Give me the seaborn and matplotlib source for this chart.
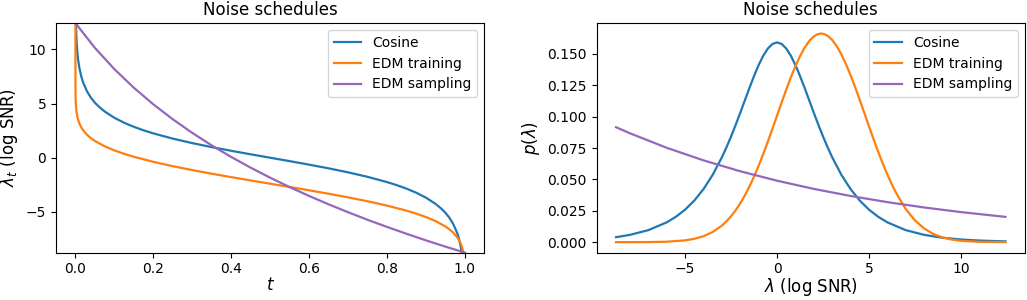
import pandas as pd
import seaborn as sns
import matplotlib.pyplot as plt

names = ["Cosine", "EDM training", "EDM sampling"]
colors = ["tab:blue", "tab:orange", "tab:purple"]

# left panel: lambda_t against t
t_cos = [0.00127, 0.0015, 0.002, 0.003, 0.004, 0.005, 0.007, 0.01, 0.015, 0.02, 0.03,
         0.04, 0.05, 0.06, 0.075, 0.1, 0.125, 0.15, 0.175, 0.2, 0.25, 0.3, 0.35, 0.4,
         0.45, 0.5, 0.55, 0.6, 0.65, 0.7, 0.75, 0.8, 0.825, 0.85, 0.875, 0.9, 0.925,
         0.94, 0.95, 0.96, 0.97, 0.98, 0.985, 0.99, 0.992]
lam_cos = [12.43, 12.10, 11.53, 10.72, 10.14, 9.69, 9.02, 8.31, 7.50, 6.92, 6.11,
           5.53, 5.08, 4.72, 4.27, 3.685, 3.23, 2.853, 2.531, 2.248, 1.763, 1.349,
           0.979, 0.639, 0.315, 0.0, -0.315, -0.639, -0.979, -1.349, -1.763, -2.248,
           -2.531, -2.853, -3.23, -3.685, -4.27, -4.72, -5.08, -5.53, -6.11, -6.92,
           -7.50, -8.31, -8.76]

t_edm = [0.0, 1e-6, 1e-5, 1e-4, 0.0005, 0.001, 0.002, 0.003, 0.005, 0.007, 0.01,
         0.015, 0.02, 0.03, 0.04, 0.05, 0.075, 0.1, 0.125, 0.15, 0.2, 0.25, 0.3, 0.35,
         0.4, 0.45, 0.5, 0.55, 0.6, 0.65, 0.7, 0.75, 0.8, 0.85, 0.875, 0.9, 0.925,
         0.95, 0.96, 0.97, 0.98, 0.985, 0.99, 0.993, 0.995, 0.996]
lam_edm = [12.43, 9.01, 7.84, 6.53, 5.497, 5.02, 4.51, 4.195, 3.78, 3.497, 3.18,
           2.808, 2.53, 2.11, 1.802, 1.548, 1.056, 0.676, 0.361, 0.087, -0.380,
           -0.781, -1.141, -1.475, -1.792, -2.098, -2.4, -2.702, -3.008, -3.325,
           -3.659, -4.019, -4.420, -4.887, -5.161, -5.476, -5.856, -6.348, -6.602,
           -6.91, -7.33, -7.608, -7.98, -8.297, -8.58, -8.76]

t_samp = [0.0, 0.05, 0.1, 0.15, 0.2, 0.25, 0.3, 0.35, 0.4, 0.45, 0.5, 0.55, 0.6,
          0.65, 0.7, 0.75, 0.8, 0.85, 0.9, 0.95, 1.0]
lam_samp = [12.43, 10.14, 8.18, 6.46, 4.93, 3.55, 2.29, 1.135, 0.07, -0.92, -1.845,
            -2.71, -3.53, -4.30, -5.03, -5.73, -6.39, -7.02, -7.63, -8.21, -8.76]

# right panel: density p(lambda)
x_cos = [-8.76, -8, -7, -6, -5.5, -5, -4.5, -4, -3.5, -3, -2.75, -2.5, -2.25, -2,
         -1.75, -1.5, -1.25, -1, -0.75, -0.5, -0.25, 0, 0.25, 0.5, 0.75, 1, 1.25,
         1.5, 1.75, 2, 2.25, 2.5, 2.75, 3, 3.5, 4, 4.5, 5, 5.5, 6, 7, 8, 9, 10, 11,
         12, 12.43]
p_cos = [0.00398, 0.00583, 0.0096, 0.01581, 0.02027, 0.02595, 0.03318, 0.04231,
         0.05369, 0.06766, 0.07566, 0.08428, 0.0935, 0.10314, 0.11305, 0.12293,
         0.13243, 0.14114, 0.14858, 0.15431, 0.15792, 0.15915, 0.15792, 0.15431,
         0.14858, 0.14114, 0.13243, 0.12293, 0.11305, 0.10314, 0.0935, 0.08428,
         0.07566, 0.06766, 0.05369, 0.04231, 0.03318, 0.02595, 0.02027, 0.01581,
         0.0096, 0.00583, 0.00354, 0.00215, 0.0013, 0.00079, 0.00064]

x_edm = [-8.76, -7, -6, -5, -4.5, -4, -3.5, -3, -2.75, -2.5, -2.25, -2, -1.75, -1.5,
         -1.25, -1, -0.75, -0.5, -0.25, 0, 0.25, 0.5, 0.75, 1, 1.25, 1.5, 1.75, 2,
         2.2, 2.4, 2.6, 2.8, 3, 3.25, 3.5, 3.75, 4, 4.25, 4.5, 4.75, 5, 5.25, 5.5,
         5.75, 6, 6.25, 6.5, 7, 7.5, 8, 8.5, 9, 9.5, 10, 11, 12.43]
p_edm = [0.0, 0.00008, 0.00036, 0.00143, 0.00267, 0.00475, 0.0081, 0.01323, 0.01663,
         0.02068, 0.02544, 0.03096, 0.03728, 0.0444, 0.05229, 0.06094, 0.07025,
         0.08011, 0.09036, 0.10082, 0.11129, 0.12151, 0.13125, 0.14023, 0.1482,
         0.15495, 0.16024, 0.16394, 0.16565, 0.16623, 0.16565, 0.16394, 0.16111,
         0.15613, 0.14966, 0.14191, 0.1331, 0.1235, 0.11335, 0.10292, 0.09244,
         0.08213, 0.07218, 0.06275, 0.05397, 0.04591, 0.03864, 0.02648, 0.01739,
         0.01092, 0.00658, 0.00379, 0.00209, 0.0011, 0.00027, 0.00003]

x_samp = [-8.76, -8, -6, -4, -2, 0, 2, 4, 6, 8, 10, 12.43]
p_samp = [0.09157, 0.08672, 0.07518, 0.06517, 0.05649, 0.04897, 0.04245, 0.0368,
          0.0319, 0.02766, 0.02397, 0.02015]

sched = pd.concat([
    pd.DataFrame({"t": t_cos, "lam": lam_cos, "name": names[0]}),
    pd.DataFrame({"t": t_edm, "lam": lam_edm, "name": names[1]}),
    pd.DataFrame({"t": t_samp, "lam": lam_samp, "name": names[2]}),
])
dens = pd.concat([
    pd.DataFrame({"lam": x_cos, "p": p_cos, "name": names[0]}),
    pd.DataFrame({"lam": x_edm, "p": p_edm, "name": names[1]}),
    pd.DataFrame({"lam": x_samp, "p": p_samp, "name": names[2]}),
])

plt.rcParams["axes.labelsize"] = 12
plt.rcParams["xtick.major.pad"] = 3
palette = dict(zip(names, colors))

fig, (ax1, ax2) = plt.subplots(1, 2, figsize=(10.27, 3.0), dpi=100)
fig.subplots_adjust(left=0.0545, right=0.998, top=0.923, bottom=0.158, wspace=0.262)

sns.lineplot(data=sched, x="t", y="lam", hue="name", palette=palette, estimator=None,
             sort=False, linewidth=1.6, ax=ax1)
ax1.set_ylim(-8.76, 12.43)
ax1.set_xlabel("$t$", labelpad=0)
ax1.set_ylabel(r"$\lambda_t$ (log SNR)")
ax1.set_title("Noise schedules")
ax1.legend(loc="upper right")

sns.lineplot(data=dens, x="lam", y="p", hue="name", palette=palette, estimator=None,
             sort=False, linewidth=1.6, ax=ax2)
ax2.set_xlabel(r"$\lambda$ (log SNR)", labelpad=0)
ax2.set_ylabel(r"$p(\lambda)$")
ax2.set_title("Noise schedules")
ax2.legend(loc="upper right")

plt.savefig("out.png")
